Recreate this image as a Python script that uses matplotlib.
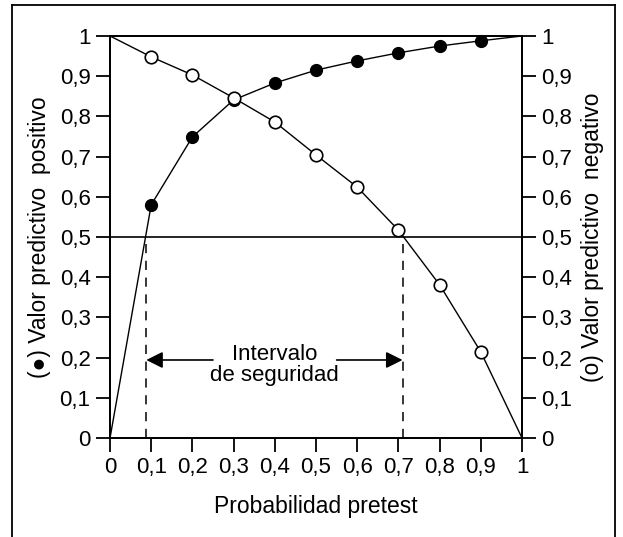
import matplotlib
matplotlib.use("Agg")
import matplotlib.pyplot as plt
from matplotlib.lines import Line2D

plt.rcParams['font.family'] = ['Liberation Sans', 'DejaVu Sans']

# data
pretest = [0, 0.1, 0.2, 0.3, 0.4, 0.5, 0.6, 0.7, 0.8, 0.9, 1.0]
vpp = [0, 0.58, 0.749, 0.841, 0.883, 0.915, 0.938, 0.958, 0.975, 0.988, 1.0]
vpn = [1.0, 0.948, 0.903, 0.846, 0.786, 0.704, 0.624, 0.517, 0.381, 0.214, 0]
ticks = [0, 0.1, 0.2, 0.3, 0.4, 0.5, 0.6, 0.7, 0.8, 0.9, 1.0]
tick_labels = ['0', '0,1', '0,2', '0,3', '0,4', '0,5', '0,6', '0,7', '0,8', '0,9', '1']
limit_low = 0.088
limit_high = 0.71
arrow_y = 0.194

fig = plt.figure(figsize=(6.23, 5.37), dpi=100)
ax = fig.add_axes([0.1766, 0.1844, 0.6613, 0.7486])
ax2 = ax.twinx()

ax.plot(pretest, vpp, color='black', lw=1.0, zorder=3, clip_on=False)
ax.plot(pretest[1:-1], vpp[1:-1], 'o', color='black', ms=8.5, zorder=4, clip_on=False)
ax.plot(pretest, vpn, color='black', lw=1.0, zorder=3, clip_on=False)
ax.plot(pretest[1:-1], vpn[1:-1], 'o', mfc='white', mec='black', mew=1.2, ms=9,
        zorder=5, clip_on=False)

ax.axhline(0.5, color='black', lw=1.2, zorder=2)
for xv in (limit_low, limit_high):
    ax.plot([xv, xv], [0, 0.5], color='black', lw=1.1, ls=(0, (6, 5)), zorder=2)

# "intervalo de seguridad" arrows
arrow = dict(arrowstyle='-|>', mutation_scale=25, color='black', lw=1.2,
             shrinkA=0, shrinkB=0)
ax.annotate('', xy=(limit_low, arrow_y), xytext=(0.25, arrow_y), arrowprops=arrow)
ax.annotate('', xy=(limit_high, arrow_y), xytext=(0.55, arrow_y), arrowprops=arrow)
ax.text(0.40, 0.182, 'Intervalo\nde seguridad', ha='center', va='center',
        fontsize=16, linespacing=1.0)

for a in (ax, ax2):
    a.set_xlim(0, 1)
    a.set_ylim(0, 1)
    a.set_yticks(ticks)
    a.set_yticklabels(tick_labels)
    for s in a.spines.values():
        s.set_linewidth(1.3)
    a.tick_params(length=10, width=1.3, pad=4, labelsize=16)
ax.set_xticks(ticks)
ax.set_xticklabels(tick_labels)

ax.set_xlabel('Probabilidad pretest', fontsize=16.5, labelpad=12)
ax.set_ylabel('(\u25cf) Valor predictivo  positivo', fontsize=16.5, labelpad=6)
ax2.set_ylabel('(o) Valor predictivo  negativo', fontsize=16.5, labelpad=6,
               rotation=90)

# frame around the figure (open at the bottom)
fig.add_artist(Line2D([0.019, 0.019], [0.0, 0.99], color='black', lw=1.3))
fig.add_artist(Line2D([0.019, 0.987], [0.99, 0.99], color='black', lw=1.3))
fig.add_artist(Line2D([0.987, 0.987], [0.0, 0.99], color='black', lw=1.3))

fig.savefig('out.png', dpi=100)
